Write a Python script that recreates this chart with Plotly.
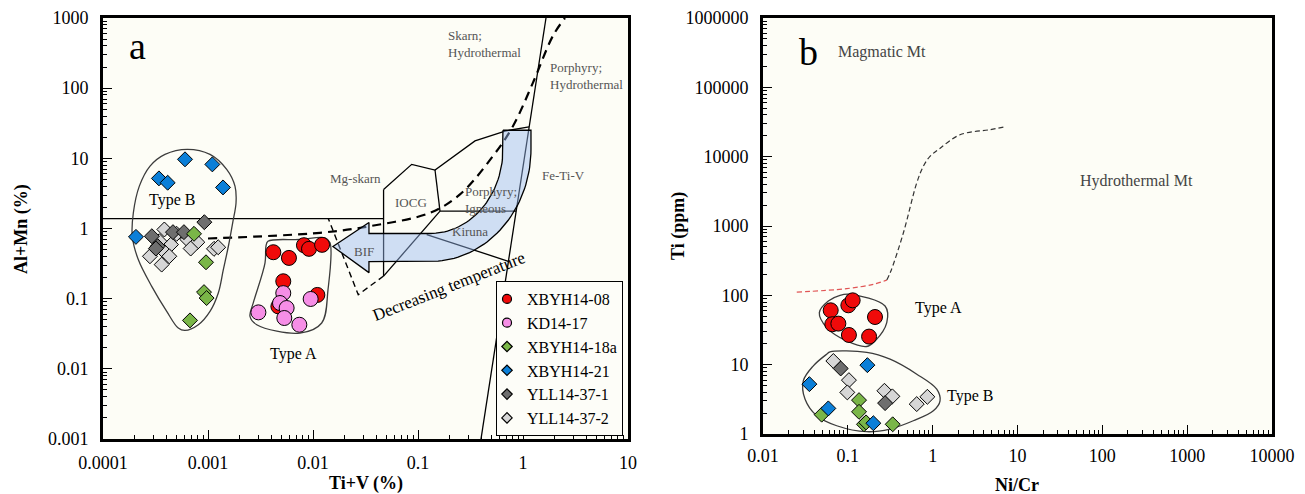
import numpy as np
import plotly.graph_objects as go

# ---------------- Panel a data: Ti+V (%) vs Al+Mn (%) ----------------
A_XBYH1408_TIV = [0.00419, 0.0059, 0.0082, 0.00916, 0.0122, 0.00521, 0.011, 0.00468]
A_XBYH1408_ALMN = [0.459, 0.381, 0.578, 0.513, 0.585, 0.177, 0.113, 0.0776]
A_KD1417_TIV = [0.00521, 0.00485, 0.00561, 0.00302, 0.00533, 0.00741, 0.0095]
A_KD1417_ALMN = [0.12, 0.0867, 0.0736, 0.0638, 0.053, 0.0425, 0.099]
A_XBYH1418A_TIV = [0.000736, 0.000957, 0.000916, 0.00097, 0.000674]
A_XBYH1418A_ALMN = [0.84, 0.33, 0.124, 0.102, 0.049]
A_XBYH1421_TIV = [0.000604, 0.0011, 0.000341, 0.000413, 0.00139, 0.000206]
A_XBYH1421_ALMN = [9.68, 8.2, 5.18, 4.49, 3.85, 0.76]
A_YLL14371_TIV = [0.000923, 0.000292, 0.000464, 0.00059, 0.000332, 0.000319]
A_YLL14371_ALMN = [1.23, 0.776, 0.887, 0.887, 0.559, 0.518]
A_YLL14372_TIV = [0.000384, 0.000503, 0.000636, 0.000791, 0.000684, 0.000444, 0.000384,
                  0.00028, 0.000428, 0.000362, 0.00114, 0.00125, 0.000344]
A_YLL14372_ALMN = [0.968, 0.84, 0.697, 0.638, 0.518, 0.59, 0.464, 0.402, 0.402, 0.306,
                   0.513, 0.54, 0.659]

# ---------------- Panel b data: Ni/Cr vs Ti (ppm) ----------------
B_XBYH1408_NICR = [0.0628, 0.1014, 0.114, 0.209, 0.0656, 0.0773, 0.103, 0.178]
B_XBYH1408_TI = [60.8, 71.8, 84.7, 48.7, 38.3, 39.1, 26.8, 25.4]
B_XBYH1421_NICR = [0.17, 0.0352, 0.0589, 0.2]
B_XBYH1421_TI = [9.84, 5.24, 2.34, 1.43]
B_XBYH1418A_NICR = [0.0492, 0.1355, 0.1355, 0.155, 0.164, 0.338]
B_XBYH1418A_TI = [1.9, 3.08, 2.09, 1.38, 1.47, 1.38]
B_YLL14371_NICR = [0.0824, 0.275]
B_YLL14371_TI = [8.81, 2.79]
B_YLL14372_NICR = [0.0675, 0.103, 0.0986, 0.27, 0.335, 0.649, 0.866]
B_YLL14372_TI = [11.3, 5.98, 3.98, 4.2, 3.49, 2.7, 3.44]

# ---------------- Panel a field boundaries (data units) ----------------
LINE_A_X = [1.656, 0.398]
LINE_A_Y = [1000, 0.001]
H1_X = [0.0001, 0.047]
H1_Y = [1.38, 1.38]
V1_X = [0.047, 0.047]
V1_Y = [3.6, 0.21]
IOCG_TOP_X = [0.047, 0.0871, 0.1452, 0.349, 0.675, 1.14]
IOCG_TOP_Y = [3.6, 8.2, 6.81, 17.7, 24.5, 28.0]
IOCG_RIGHT_X = [0.1452, 0.162]
IOCG_RIGHT_Y = [6.81, 1.766]
H2_X = [0.162, 0.861]
H2_Y = [1.766, 1.766]
DIAG_X = [0.162, 0.047]
DIAG_Y = [1.766, 0.21]
KIRUNA_LOW_X = [0.121, 0.726]
KIRUNA_LOW_Y = [0.82, 0.341]
BIF_DASH_X = [0.047, 0.02698, 0.014]
BIF_DASH_Y = [0.21, 0.114, 1.38]
MAIN_DASH_X = [0.001, 0.01167, 0.0349, 0.130, 0.251, 0.518, 0.804, 1.245, 1.93, 2.51]
MAIN_DASH_Y = [0.72, 0.869, 1.08, 1.67, 3.06, 10.8, 28.9, 120, 559, 1000]

# Type outlines (log10 units)
A_TYPEB_LX = [-3.197, -2.981, -2.822, -2.743, -2.733, -2.765, -2.806, -2.854, -2.902, -2.981,
              -3.092, -3.219, -3.283, -3.393, -3.536, -3.664, -3.721, -3.711, -3.654, -3.552,
              -3.41, -3.197]
A_TYPEB_LY = [1.129, 1.057, 0.843, 0.604, 0.367, 0.081, -0.253, -0.586, -0.919, -1.181,
              -1.371, -1.453, -1.419, -1.181, -0.824, -0.443, -0.11, 0.224, 0.604, 0.89,
              1.057, 1.129]
A_TYPEA_LX = [-2.429, -2.124, -1.886, -1.838, -1.857, -1.917, -2.124, -2.536, -2.6, -2.569,
              -2.457, -2.448, -2.429]
A_TYPEA_LY = [-0.181, -0.157, -0.133, -0.204, -0.871, -1.347, -1.49, -1.371, -1.253, -1.061,
              -0.49, -0.253, -0.181]
B_TYPEA_LX = [-0.974, -0.561, -0.541, -0.679, -0.777, -1.013, -1.249, -1.336, -1.23, -1.092, -0.974]
B_TYPEA_LY = [2.014, 1.846, 1.607, 1.342, 1.262, 1.342, 1.535, 1.751, 1.918, 2.0, 2.014]
B_TYPEB_LX = [-1.21, -0.777, -0.502, -0.187, 0.048, 0.087, 0.008, -0.228, -0.502, -0.777,
              -1.131, -1.367, -1.505, -1.525, -1.407, -1.249, -1.21]
B_TYPEB_LY = [1.184, 1.176, 1.079, 0.863, 0.647, 0.479, 0.335, 0.191, 0.072, 0.033,
              0.119, 0.263, 0.504, 0.767, 0.983, 1.151, 1.184]

# Panel b boundary curve
B_RED_X = [0.025, 0.097, 0.2, 0.288]
B_RED_Y = [111, 125, 144, 166]
B_BLACK_X = [0.288, 0.32, 0.452, 0.649, 0.776, 0.93, 1.2, 2.1, 4.75, 7.1]
B_BLACK_Y = [166, 220, 798, 4186, 7250, 10100, 13000, 20700, 24500, 27000]

# Series styling
SERIES = ["XBYH14-08", "KD14-17", "XBYH14-18a", "XBYH14-21", "YLL14-37-1", "YLL14-37-2"]
COLORS = {"XBYH14-08": "#f00a0a", "KD14-17": "#f68ee6", "XBYH14-18a": "#7ab648",
          "XBYH14-21": "#0b7fd8", "YLL14-37-1": "#6e6e6e", "YLL14-37-2": "#d6d6d6"}
SYMBOLS = {"XBYH14-08": "circle", "KD14-17": "circle", "XBYH14-18a": "diamond",
           "XBYH14-21": "diamond", "YLL14-37-1": "diamond", "YLL14-37-2": "diamond"}

FONT = "Liberation Serif"
fig = go.Figure()


def add_line(x, y, xa, ya, color="black", width=1.3, dash="solid", shape="linear"):
    fig.add_trace(go.Scatter(x=x, y=y, xaxis=xa, yaxis=ya, mode="lines",
                             line=dict(color=color, width=width, dash=dash, shape=shape,
                                       smoothing=1.0),
                             showlegend=False, hoverinfo="skip"))


# ---- Panel a boundaries
for xs, ys in [(LINE_A_X, LINE_A_Y), (H1_X, H1_Y), (V1_X, V1_Y), (IOCG_TOP_X, IOCG_TOP_Y),
               (IOCG_RIGHT_X, IOCG_RIGHT_Y), (H2_X, H2_Y), (DIAG_X, DIAG_Y),
               (KIRUNA_LOW_X, KIRUNA_LOW_Y)]:
    add_line(xs, ys, "x", "y", width=1.3)
add_line(BIF_DASH_X, BIF_DASH_Y, "x", "y", width=1.4, dash="6px,4px")
add_line(MAIN_DASH_X, MAIN_DASH_Y, "x", "y", width=2.2, dash="9px,6px", shape="spline")

# ---- Decreasing-temperature arrow (log10 geometry)
cx, cy = -0.886, 1.129
rx_in, ry_in, rx_out, ry_out = 0.695, 1.2, 0.962, 1.6
top_ly = 1.4
head_base, tip_lx, tip_ly, barb_top, barb_bot = -1.467, -1.81, -0.257, 0.086, -0.629
t = np.linspace(0, np.pi / 2, 40)
lx = ([cx + rx_in] + list(cx + rx_in * np.cos(t)) +
      [head_base, head_base, tip_lx, head_base, head_base] +
      list(cx + rx_out * np.cos(t[::-1])) + [cx + rx_out, cx + rx_in])
ly = ([top_ly] + list(cy - ry_in * np.sin(t)) +
      [cy - ry_in, barb_top, tip_ly, barb_bot, cy - ry_out] +
      list(cy - ry_out * np.sin(t[::-1])) + [top_ly, top_ly])
fig.add_trace(go.Scatter(x=10 ** np.array(lx), y=10 ** np.array(ly), xaxis="x", yaxis="y",
                         mode="lines", fill="toself", fillcolor="rgba(150,185,240,0.45)",
                         line=dict(color="black", width=1.3), showlegend=False,
                         hoverinfo="skip"))

# ---- Type outlines
for lxs, lys, xa, ya in [(A_TYPEB_LX, A_TYPEB_LY, "x", "y"), (A_TYPEA_LX, A_TYPEA_LY, "x", "y"),
                         (B_TYPEA_LX, B_TYPEA_LY, "x2", "y2"), (B_TYPEB_LX, B_TYPEB_LY, "x2", "y2")]:
    add_line(10 ** np.array(lxs), 10 ** np.array(lys), xa, ya, color="#3c3c3c", width=1.3,
             shape="spline")

# ---- Panel b curve
add_line(B_RED_X, B_RED_Y, "x2", "y2", color="#e05555", width=1.2, dash="5px,3px", shape="spline")
add_line(B_BLACK_X, B_BLACK_Y, "x2", "y2", color="#333333", width=1.2, dash="5px,3px",
         shape="spline")


def add_pts(name, x, y, xa, ya):
    sym = SYMBOLS[name]
    size = 15 if sym == "circle" else 11.5
    fig.add_trace(go.Scatter(x=x, y=y, xaxis=xa, yaxis=ya, mode="markers", name=name,
                             marker=dict(symbol=sym, size=size, color=COLORS[name],
                                         line=dict(color="black", width=1)),
                             showlegend=False))


# panel a points (draw order as in the reference)
add_pts("XBYH14-08", A_XBYH1408_TIV, A_XBYH1408_ALMN, "x", "y")
add_pts("KD14-17", A_KD1417_TIV, A_KD1417_ALMN, "x", "y")
add_pts("YLL14-37-2", A_YLL14372_TIV, A_YLL14372_ALMN, "x", "y")
add_pts("YLL14-37-1", A_YLL14371_TIV, A_YLL14371_ALMN, "x", "y")
add_pts("XBYH14-18a", A_XBYH1418A_TIV, A_XBYH1418A_ALMN, "x", "y")
add_pts("XBYH14-21", A_XBYH1421_TIV, A_XBYH1421_ALMN, "x", "y")
# panel b points
add_pts("YLL14-37-2", B_YLL14372_NICR, B_YLL14372_TI, "x2", "y2")
add_pts("YLL14-37-1", B_YLL14371_NICR, B_YLL14371_TI, "x2", "y2")
add_pts("XBYH14-18a", B_XBYH1418A_NICR, B_XBYH1418A_TI, "x2", "y2")
add_pts("XBYH14-21", B_XBYH1421_NICR, B_XBYH1421_TI, "x2", "y2")
add_pts("XBYH14-08", B_XBYH1408_NICR, B_XBYH1408_TI, "x2", "y2")

# legend entries
for name in SERIES:
    sym = SYMBOLS[name]
    fig.add_trace(go.Scatter(x=[None], y=[None], xaxis="x", yaxis="y", mode="markers", name=name,
                             marker=dict(symbol=sym, size=9 if sym == "circle" else 8,
                                         color=COLORS[name], line=dict(color="black", width=1.2)),
                             showlegend=True))


def log_axis(rng, domain, vals, texts, anchor, standoff):
    minors = [k * v for v in vals[:-1] for k in range(2, 10)]
    return dict(type="log", range=rng, domain=domain, anchor=anchor, showline=True, mirror=True,
                automargin=False,
                linecolor="black", linewidth=2.6, ticks="inside", ticklen=9, tickwidth=1.3,
                tickcolor="black", tickmode="array", tickvals=vals, ticktext=texts,
                minor=dict(tickmode="array", tickvals=minors, ticks="inside", ticklen=4.5,
                           tickwidth=1, tickcolor="black", showgrid=False),
                showgrid=False, zeroline=False, ticklabelstandoff=standoff,
                tickfont=dict(family=FONT, size=18, color="black"))


W, H = 1305, 494
AX_TICKS = [0.0001, 0.001, 0.01, 0.1, 1, 10]
AX_TEXT = ["0.0001", "0.001", "0.01", "0.1", "1", "10"]
AY_TICKS = [0.001, 0.01, 0.1, 1, 10, 100, 1000]
AY_TEXT = ["0.001", "0.01", "0.1", "1", "10", "100", "1000"]
BX_TICKS = [0.01, 0.1, 1, 10, 100, 1000, 10000]
BX_TEXT = ["0.01", "0.1", "1", "10", "100", "1000", "10000"]
BY_TICKS = [1, 10, 100, 1000, 10000, 100000, 1000000]
BY_TEXT = ["1", "10", "100", "1000", "10000", "100000", "1000000"]

fig.update_layout(
    template="none",
    width=W, height=H, margin=dict(l=0, r=0, t=0, b=0, autoexpand=False),
    paper_bgcolor="white", plot_bgcolor="#fdfdf6",
    font=dict(family=FONT, color="black"),
    xaxis=log_axis([-4, 1], [103 / W, 628 / W], AX_TICKS, AX_TEXT, "y", 6),
    yaxis=log_axis([-3, 3], [1 - 439 / H, 1 - 18 / H], AY_TICKS, AY_TEXT, "x", 8),
    xaxis2=log_axis([-2, 4], [763 / W, 1272 / W], BX_TICKS, BX_TEXT, "y2", 4),
    yaxis2=log_axis([0, 6], [1 - 434 / H, 1 - 18 / H], BY_TICKS, BY_TEXT, "x2", 8),
    showlegend=True,
    legend=dict(x=496 / W, y=1 - 281 / H, xanchor="left", yanchor="top",
                font=dict(family=FONT, size=16, color="black"), bgcolor="#fdfdf8",
                bordercolor="black", borderwidth=1, indentation=-10, tracegroupgap=0,
                itemwidth=30),
)

ann = []


def note(text, x, y, xref, yref, size=13, color="#555555", xanchor="center", angle=0):
    ann.append(dict(text=text, x=x, y=y, xref=xref, yref=yref, showarrow=False,
                    font=dict(family=FONT, size=size, color=color), xanchor=xanchor,
                    yanchor="middle", textangle=angle, align="left"))


# panel a labels (log10 positions)
note("a", -3.667, 2.6, "x", "y", size=38, color="black")
note("Type B", -3.343, 0.4, "x", "y", size=16, color="black")
note("Type A", -2.19, -1.786, "x", "y", size=16, color="black")
note("Mg-skarn", -1.6, 0.714, "x", "y")
note("IOCG", -1.067, 0.371, "x", "y")
note("Porphyry;<br>Igneous", -0.571, 0.4, "x", "y", xanchor="left")
note("Kiruna", -0.505, -0.043, "x", "y")
note("BIF", -1.514, -0.329, "x", "y")
note("Fe-Ti-V", 0.39, 0.757, "x", "y")
note("Skarn;<br>Hydrothermal", -0.733, 2.629, "x", "y", xanchor="left")
note("Porphyry;<br>Hydrothermal", 0.238, 2.179, "x", "y", xanchor="left")
note("Decreasing temperature", -0.705, -0.829, "x", "y", size=17, color="black", angle=-21.5)
# panel b labels
note("b", -1.469, 5.511, "x2", "y2", size=38, color="black")
note("Magmatic Mt", -0.6, 5.515, "x2", "y2", size=16, color="#444444")
note("Hydrothermal Mt", 2.407, 3.645, "x2", "y2", size=16, color="#444444")
note("Type A", 0.064, 1.813, "x2", "y2", size=16, color="black")
note("Type B", 0.441, 0.547, "x2", "y2", size=16, color="black")
# axis titles
note("<b>Al+Mn (%)</b>", 21 / W, 1 - 229 / H, "paper", "paper", size=18, color="black", angle=-90)
note("<b>Ti+V (%)</b>", 366 / W, 1 - 483 / H, "paper", "paper", size=18, color="black")
note("<b>Ti (ppm)</b>", 678 / W, 1 - 226 / H, "paper", "paper", size=18, color="black", angle=-90)
note("<b>Ni/Cr</b>", 1017 / W, 1 - 485 / H, "paper", "paper", size=18, color="black")
fig.update_layout(annotations=ann)

fig.write_html("out.html")
